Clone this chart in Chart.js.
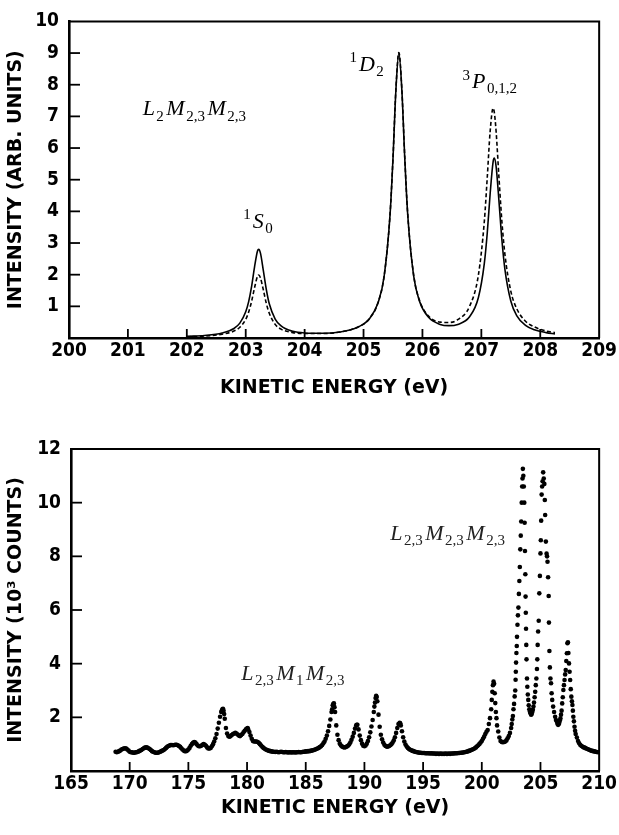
<!DOCTYPE html>
<html><head><meta charset="utf-8">
<script src="https://cdn.jsdelivr.net/npm/chart.js@4.4.0/dist/chart.umd.min.js"></script>
<style>
html,body{margin:0;padding:0;background:#fff;}
#wrap{width:619px;height:835px;position:relative;background:#fff;}
canvas{display:block;}
</style></head><body>
<div id="wrap">
<canvas id="topChart" width="619" height="410"></canvas>
<canvas id="bottomChart" width="619" height="425"></canvas>
</div>
<script>
// ---------- TOP PANEL DATA (calculated L2M23M23 line shapes) ----------
const topEnergy = [202.0,202.3,202.6,202.8,202.9,203.0,203.05,203.1,203.15,203.2,
  203.22,203.25,203.3,203.35,203.4,203.5,203.6,203.8,204.0,204.3,
  204.6,204.9,205.1,205.25,205.35,205.45,205.5,205.55,205.6,205.65,
  205.7,205.75,205.85,205.95,206.1,206.3,206.45,206.6,206.8,206.95,
  207.05,207.1,207.15,207.2,207.22,207.25,207.3,207.35,207.4,207.5,
  207.6,207.75,207.9,208.1,208.25];
const topSolid = [0.05,0.08,0.16,0.30,0.47,0.83,1.15,1.63,2.25,2.75,
  2.80,2.68,2.12,1.53,1.08,0.60,0.38,0.21,0.16,0.15,
  0.19,0.34,0.61,1.13,1.95,3.89,5.67,7.85,9.00,7.85,
  5.68,3.90,1.97,1.16,0.66,0.43,0.39,0.43,0.67,1.28,
  2.35,3.31,4.57,5.57,5.68,5.43,4.30,3.07,2.17,1.17,
  0.71,0.40,0.26,0.17,0.13];
const topDashed = [0.04,0.06,0.12,0.22,0.34,0.59,0.82,1.16,1.59,1.95,
  1.99,1.90,1.51,1.09,0.78,0.43,0.28,0.17,0.14,0.14,
  0.19,0.34,0.61,1.14,1.96,3.90,5.68,7.87,9.02,7.87,
  5.70,3.92,2.00,1.19,0.70,0.50,0.49,0.58,1.00,1.99,
  3.67,5.06,6.54,7.26,7.13,6.54,5.04,3.65,2.64,1.48,
  0.93,0.53,0.35,0.22,0.17];
const topXTicks = [200,209,1];     // min, max, step
const topYTicks = [0,10,1];

// ---------- BOTTOM PANEL DATA (measured spectrum, 10^3 counts) ----------
const bottomSpectrum = [
[168.8,0.72],[168.9,0.70],
[169.0,0.72],[169.1,0.74],[169.2,0.76],[169.3,0.80],[169.4,0.82],[169.5,0.84],[169.6,0.85],[169.7,0.84],[169.8,0.80],[169.9,0.76],
[170.0,0.72],[170.1,0.70],[170.2,0.70],[170.3,0.68],[170.4,0.68],[170.5,0.70],[170.6,0.70],[170.7,0.72],[170.8,0.74],[170.9,0.76],
[171.0,0.78],[171.1,0.82],[171.2,0.85],[171.3,0.87],[171.4,0.88],[171.5,0.87],[171.6,0.85],[171.7,0.82],[171.8,0.78],[171.9,0.74],
[172.0,0.72],[172.1,0.70],[172.2,0.68],[172.3,0.68],[172.4,0.68],[172.5,0.70],[172.6,0.72],[172.7,0.74],[172.8,0.76],[172.9,0.78],
[173.0,0.82],[173.1,0.86],[173.2,0.90],[173.3,0.93],[173.4,0.95],[173.5,0.97],[173.6,0.97],[173.7,0.96],[173.8,0.97],[173.9,0.98],
[174.0,0.98],[174.1,0.96],[174.2,0.93],[174.3,0.90],[174.4,0.85],[174.5,0.80],[174.6,0.76],[174.7,0.74],[174.8,0.74],[174.9,0.76],
[175.0,0.80],[175.1,0.86],[175.2,0.94],[175.3,1.00],[175.4,1.05],[175.5,1.08],[175.6,1.06],[175.7,1.00],[175.8,0.95],[175.9,0.92],
[176.0,0.92],[176.1,0.94],[176.2,0.98],[176.3,1.00],[176.4,0.98],[176.5,0.94],[176.6,0.88],[176.7,0.84],[176.8,0.84],[176.9,0.86],
[177.0,0.92],[177.1,1.00],[177.2,1.10],[177.3,1.22],[177.4,1.38],[177.5,1.58],[177.6,1.80],[177.7,2.02],[177.8,2.20],[177.9,2.30],
[177.85,2.25],[177.95,2.32],[178.05,2.12],
[178.0,2.25],[178.1,1.95],[178.2,1.60],[178.3,1.40],[178.4,1.30],[178.5,1.28],[178.6,1.30],[178.7,1.34],[178.8,1.38],[178.9,1.40],
[179.0,1.42],[179.1,1.40],[179.2,1.36],[179.3,1.32],[179.4,1.30],[179.5,1.34],[179.6,1.38],[179.7,1.44],[179.8,1.50],[179.9,1.55],
[180.0,1.58],[180.05,1.60],[180.1,1.55],[180.2,1.45],[180.3,1.32],[180.4,1.20],[180.5,1.12],[180.6,1.10],[180.7,1.10],[180.8,1.10],[180.9,1.08],
[181.0,1.05],[181.1,1.00],[181.2,0.95],[181.3,0.90],[181.4,0.86],[181.5,0.83],[181.6,0.80],[181.7,0.78],[181.8,0.76],[181.9,0.75],
[182.0,0.74],[182.1,0.73],[182.2,0.72],[182.3,0.72],[182.4,0.71],[182.5,0.72],[182.6,0.71],[182.7,0.70],[182.8,0.71],[182.9,0.72],
[183.0,0.71],[183.1,0.70],[183.2,0.70],[183.3,0.71],[183.4,0.70],[183.5,0.69],[183.6,0.70],[183.7,0.70],[183.8,0.69],[183.9,0.70],
[184.0,0.70],[184.1,0.69],[184.2,0.70],[184.3,0.70],[184.4,0.71],[184.5,0.70],[184.6,0.70],[184.7,0.71],[184.8,0.72],[184.9,0.72],
[185.0,0.73],[185.1,0.73],[185.2,0.74],[185.3,0.74],[185.4,0.75],[185.5,0.76],[185.6,0.77],[185.7,0.78],[185.8,0.80],[185.9,0.82],
[186.0,0.84],[186.1,0.86],[186.2,0.89],[186.3,0.92],[186.4,0.97],[186.5,1.03],[186.6,1.10],[186.7,1.20],[186.8,1.32],[186.9,1.48],
[187.0,1.68],[187.1,1.92],[187.2,2.20],[187.25,2.30],[187.3,2.45],[187.35,2.50],[187.4,2.52],[187.45,2.38],[187.5,2.20],[187.6,1.70],[187.7,1.35],[187.8,1.15],[187.9,1.02],
[188.0,0.95],[188.1,0.91],[188.2,0.89],[188.3,0.88],[188.4,0.89],[188.5,0.91],[188.6,0.94],[188.7,0.99],[188.8,1.06],[188.9,1.16],
[189.0,1.28],[189.1,1.42],[189.2,1.58],[189.3,1.70],[189.35,1.72],[189.4,1.72],[189.5,1.55],[189.6,1.32],[189.7,1.15],[189.8,1.02],[189.9,0.94],
[190.0,0.92],[190.1,0.95],[190.2,1.02],[190.3,1.12],[190.4,1.26],[190.5,1.44],[190.6,1.66],[190.7,1.90],[190.8,2.20],[190.85,2.40],[190.9,2.55],[190.95,2.72],
[191.0,2.80],[191.05,2.76],[191.1,2.60],[191.2,2.10],[191.3,1.65],[191.4,1.35],[191.5,1.18],[191.6,1.06],[191.7,0.98],[191.8,0.93],[191.9,0.91],
[192.0,0.91],[192.1,0.93],[192.2,0.96],[192.3,1.00],[192.4,1.06],[192.5,1.14],[192.6,1.26],[192.7,1.42],[192.8,1.60],[192.9,1.75],
[193.0,1.80],[193.05,1.78],[193.1,1.70],[193.2,1.48],[193.3,1.26],[193.4,1.10],[193.5,0.99],[193.6,0.91],[193.7,0.86],[193.8,0.82],[193.9,0.79],
[194.0,0.77],[194.1,0.75],[194.2,0.74],[194.3,0.72],[194.4,0.71],[194.5,0.70],[194.6,0.69],[194.7,0.68],[194.8,0.68],[194.9,0.67],
[195.0,0.67],[195.1,0.67],[195.2,0.66],[195.3,0.66],[195.4,0.66],[195.5,0.66],[195.6,0.65],[195.7,0.66],[195.8,0.65],[195.9,0.65],
[196.0,0.65],[196.1,0.64],[196.2,0.65],[196.3,0.64],[196.4,0.64],[196.5,0.65],[196.6,0.64],[196.7,0.64],[196.8,0.64],[196.9,0.65],
[197.0,0.64],[197.1,0.64],[197.2,0.65],[197.3,0.64],[197.4,0.65],[197.5,0.65],[197.6,0.65],[197.7,0.66],[197.8,0.66],[197.9,0.66],
[198.0,0.67],[198.1,0.67],[198.2,0.68],[198.3,0.68],[198.4,0.69],[198.5,0.70],[198.6,0.71],[198.7,0.72],[198.8,0.73],[198.9,0.75],
[199.0,0.76],[199.1,0.78],[199.2,0.80],[199.3,0.82],[199.4,0.85],[199.5,0.88],[199.6,0.92],[199.7,0.96],[199.8,1.01],[199.9,1.06],
[200.0,1.12],[200.1,1.20],[200.2,1.28],[200.3,1.38],[200.4,1.46],
[200.5,1.53],[200.6,1.75],[200.7,1.97],[200.8,2.30],[200.85,2.65],[200.9,2.95],[200.95,3.20],[201.0,3.33],[201.05,3.25],[201.1,2.90],
[201.15,2.53],[201.2,2.20],[201.25,1.97],[201.3,1.70],[201.4,1.47],[201.5,1.25],[201.6,1.12],[201.7,1.08],[201.8,1.07],[201.9,1.08],
[202.0,1.10],[202.1,1.14],[202.2,1.22],[202.3,1.30],[202.4,1.42],
[202.5,1.60],[202.55,1.75],[202.6,1.92],[202.65,2.05],[202.7,2.30],[202.75,2.50],[202.8,2.78],[202.85,3.00],[202.88,3.40],[202.9,3.70],
[202.92,4.04],[202.95,4.40],[202.98,4.66],[203.0,5.00],[203.04,5.45],[203.08,5.80],[203.12,6.09],[203.16,6.60],[203.2,7.08],[203.24,7.60],
[203.28,8.26],[203.32,8.77],[203.36,9.30],[203.4,10.00],[203.44,10.60],[203.47,10.90],[203.5,11.26],[203.54,11.00],[203.58,10.60],[203.62,10.00],
[203.65,9.25],[203.68,8.20],[203.71,7.33],[203.73,6.50],[203.75,5.90],[203.77,5.30],[203.79,4.70],[203.81,4.16],[203.85,3.45],[203.88,3.14],
[203.92,2.85],[203.96,2.65],[204.0,2.45],[204.05,2.30],[204.1,2.22],[204.15,2.15],[204.2,2.10],[204.25,2.12],[204.3,2.20],[204.35,2.28],
[204.4,2.40],[204.45,2.55],[204.5,2.75],[204.55,2.95],[204.6,3.20],[204.65,3.45],[204.7,3.80],[204.73,4.16],[204.76,4.70],[204.8,5.20],
[204.85,5.60],[204.9,6.62],[204.95,7.27],[205.0,8.11],[205.03,8.60],[205.06,9.33],[205.1,10.30],[205.14,10.60],[205.18,10.80],[205.23,11.13],
[205.28,10.90],[205.33,10.70],[205.37,10.10],[205.4,9.54],[205.46,8.55],[205.52,8.10],[205.56,8.00],[205.6,7.80],[205.65,7.22],[205.7,6.52],
[205.72,5.53],[205.76,4.47],[205.8,3.86],[205.85,3.45],[205.9,3.27],[205.95,2.90],[206.0,2.65],[206.08,2.40],[206.16,2.20],[206.25,2.02],
[206.32,1.90],[206.4,1.84],[206.45,1.76],[206.5,1.72],[206.55,1.74],[206.6,1.80],[206.65,1.88],[206.7,1.96],[206.75,2.10],[206.8,2.25],
[206.85,2.52],[206.9,2.75],[206.95,3.02],[207.0,3.20],[207.05,3.39],[207.1,3.60],[207.15,3.76],[207.2,4.10],[207.25,4.39],[207.3,4.76],
[207.34,4.80],[207.38,4.40],[207.43,4.01],[207.48,3.70],[207.53,3.39],[207.58,3.05],[207.63,2.77],[207.68,2.60],[207.72,2.46],[207.76,2.25],
[207.8,2.02],[207.85,1.85],[207.9,1.65],[207.95,1.50],[208.0,1.38],
[208.1,1.25],[208.2,1.12],[208.3,1.03],[208.4,0.97],[208.5,0.93],[208.6,0.90],[208.7,0.88],[208.8,0.86],[208.9,0.84],
[209.0,0.82],[209.1,0.80],[209.2,0.78],[209.3,0.76],[209.4,0.75],[209.5,0.74],[209.6,0.73],[209.7,0.72],[209.8,0.71],[209.9,0.70]
];
const bottomXTicks = [165,210,5];
const bottomYTicks = [0,12,2];

// ---------- LABELS ----------
const xTitle = 'KINETIC ENERGY (eV)';
const topYTitle = 'INTENSITY (ARB. UNITS)';
const bottomYTitle = 'INTENSITY (10³ COUNTS)';
// math labels: parts [text, kind] ; kind i = italic letter, b = subscript, p = superscript
const topNotes = [
  {at:[201.25,7.03], parts:[['L','i'],['2','b'],['M','i'],['2,3','b'],['M','i'],['2,3','b']]},
  {at:[202.96,3.48], parts:[['1','p'],['S','i'],['0','b']]},
  {at:[204.76,8.44], parts:[['1','p'],['D','i'],['2','b']]},
  {at:[206.68,7.90], parts:[['3','p'],['P','i'],['0,1,2','b']]}
];
const bottomNotes = [
  {at:[192.2,8.61], parts:[['L','i'],['2,3','b'],['M','i'],['2,3','b'],['M','i'],['2,3','b']]},
  {at:[179.5,3.39], parts:[['L','i'],['2,3','b'],['M','i'],['1','b'],['M','i'],['2,3','b']]}
];

// ---------- PLUGINS ----------
const mathNotes = {
  id: 'mathNotes',
  afterDatasetsDraw(chart, args, opts) {
    const {ctx, scales: {x, y}} = chart;
    const size = opts.size || 21;
    ctx.save();
    ctx.fillStyle = opts.color || '#000';
    ctx.textAlign = 'left';
    ctx.textBaseline = 'alphabetic';
    for (const n of opts.notes) {
      let cx = x.getPixelForValue(n.at[0]);
      const by = y.getPixelForValue(n.at[1]);
      for (const [t, k] of n.parts) {
        if (k === 'i') {
          ctx.font = 'italic ' + size + "px 'Liberation Serif', 'DejaVu Serif', serif";
          ctx.fillText(t, cx, by);
          cx += ctx.measureText(t).width + 1.5;
        } else if (k === 'b') {
          ctx.font = Math.round(size * 0.68) + "px 'Liberation Serif', 'DejaVu Serif', serif";
          ctx.fillText(t, cx, by + size * 0.24);
          cx += ctx.measureText(t).width + 2.5;
        } else {
          ctx.font = Math.round(size * 0.68) + "px 'Liberation Serif', 'DejaVu Serif', serif";
          ctx.fillText(t, cx, by - size * 0.38);
          cx += ctx.measureText(t).width + 2;
        }
      }
    }
    ctx.restore();
  }
};
// closes the frame (top/right) and draws the inward tick marks at the scales' tick values
const frameBox = {
  id: 'frameBox',
  afterDraw(chart) {
    const {ctx, chartArea: a} = chart;
    const xs = chart.scales.x, ys = chart.scales.y;
    ctx.save();
    ctx.strokeStyle = '#000';
    ctx.lineWidth = 2;
    ctx.beginPath();
    ctx.moveTo(a.left, a.top); ctx.lineTo(a.right, a.top); ctx.lineTo(a.right, a.bottom);
    ctx.stroke();
    ctx.lineWidth = 1.8;
    const xt = xs.getTicks(), yt = ys.getTicks();
    for (let i = 1; i < xt.length - 1; i++) {
      const px = xs.getPixelForValue(xt[i].value);
      ctx.beginPath();
      ctx.moveTo(px, a.bottom); ctx.lineTo(px, a.bottom - 9);
      ctx.stroke();
    }
    for (let i = 1; i < yt.length - 1; i++) {
      const py = ys.getPixelForValue(yt[i].value);
      ctx.beginPath();
      ctx.moveTo(a.left, py); ctx.lineTo(a.left + 11, py);
      ctx.stroke();
    }
    ctx.restore();
  }
};

const TICK_FONT = {family: "'Liberation Sans Narrow','DejaVu Sans Condensed','Liberation Sans',sans-serif", size: 19, weight: 'bold'};
const TITLE_FONT = {family: "'DejaVu Sans',sans-serif", size: 19, weight: 'bold'};

function xAxis(t, h, titlePad) {
  return {
    type: 'linear', min: t[0], max: t[1],
    ticks: {stepSize: t[2], font: TICK_FONT, color: '#000', padding: 2, maxRotation: 0, autoSkip: false,
      callback: v => String(v)},
    grid: {drawOnChartArea: false, drawTicks: false},
    border: {display: true, color: '#000', width: 2.6},
    title: {display: true, text: xTitle, font: TITLE_FONT, color: '#000', padding: {top: 0, bottom: titlePad}},
    afterFit: s => { s.height = h; }
  };
}
function yAxis(t, title, pad, w) {
  return {
    type: 'linear', min: t[0], max: t[1],
    ticks: {stepSize: t[2], font: TICK_FONT, color: '#000', padding: pad, autoSkip: false,
      callback: v => (v === 0 ? '' : String(v))},
    grid: {drawOnChartArea: false, drawTicks: false},
    border: {display: true, color: '#000', width: 2.6},
    title: {display: true, text: title, font: TITLE_FONT, color: '#000', padding: {top: 5, bottom: 0}},
    afterFit: s => { s.width = w; }
  };
}

new Chart(document.getElementById('topChart'), {
  type: 'line',
  data: {
    datasets: [
      {label: 'solid', data: topEnergy.map((e, i) => ({x: e, y: topSolid[i]})),
       borderColor: '#000', borderWidth: 1.6, pointRadius: 0, fill: false, cubicInterpolationMode: 'monotone'},
      {label: 'dashed', data: topEnergy.map((e, i) => ({x: e, y: topDashed[i]})),
       borderColor: '#000', borderWidth: 1.6, borderDash: [4, 2.5], pointRadius: 0, fill: false, cubicInterpolationMode: 'monotone'}
    ]
  },
  options: {
    responsive: false, animation: false, events: [],
    layout: {padding: {left: 0, right: 15, top: 18, bottom: 0}},
    plugins: {legend: {display: false}, tooltip: {enabled: false},
      mathNotes: {notes: topNotes, size: 22, color: '#000'}},
    scales: {x: xAxis(topXTicks, 72, 11), y: yAxis(topYTicks, topYTitle, 10, 69)}
  },
  plugins: [mathNotes, frameBox]
});

new Chart(document.getElementById('bottomChart'), {
  type: 'scatter',
  data: {
    datasets: [
      {label: 'spectrum', data: bottomSpectrum.map(p => ({x: p[0], y: p[1]})),
       backgroundColor: '#000', borderWidth: 0, pointRadius: 2.3, showLine: false}
    ]
  },
  options: {
    responsive: false, animation: false, events: [],
    layout: {padding: {left: 0, right: 15, top: 39, bottom: 0}},
    plugins: {legend: {display: false}, tooltip: {enabled: false},
      mathNotes: {notes: bottomNotes, size: 22, color: '#222'}},
    scales: {x: xAxis(bottomXTicks, 64, 16), y: yAxis(bottomYTicks, bottomYTitle, 10, 71)}
  },
  plugins: [mathNotes, frameBox]
});
</script>
</body></html>
